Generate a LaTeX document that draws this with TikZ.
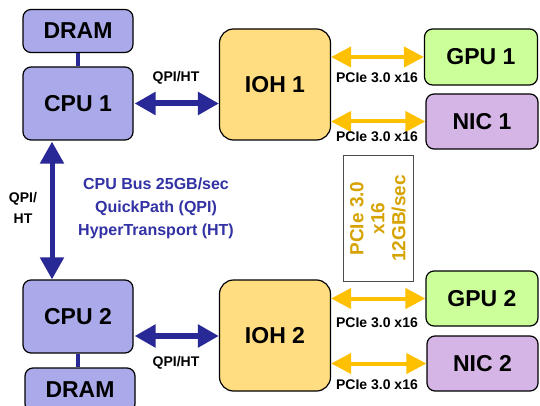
\documentclass[tikz,border=0pt]{standalone}
\usepackage{fontspec}
\setmainfont{Liberation Sans}
\usetikzlibrary{arrows.meta}
\definecolor{cpufill}{RGB}{170,170,235}
\definecolor{iohfill}{RGB}{255,221,128}
\definecolor{gpufill}{RGB}{204,255,153}
\definecolor{nicfill}{RGB}{213,180,230}
\definecolor{busblue}{RGB}{40,40,150}
\definecolor{txtblue}{RGB}{50,50,165}
\definecolor{pcieorange}{RGB}{255,192,0}
\definecolor{pcietext}{RGB}{214,163,0}
\tikzset{
  box/.style={draw=black, line width=1.2pt, rounded corners=8pt, align=center,
    font=\bfseries\fontsize{23}{27}\selectfont, inner sep=0pt},
  cpubox/.style={box, fill=cpufill, minimum width=110pt, minimum height=73pt},
  drambox/.style={box, fill=cpufill, minimum width=110pt, minimum height=43pt},
  iohbox/.style={box, fill=iohfill, rounded corners=14pt, minimum width=111pt, minimum height=111pt},
  gpubox/.style={box, fill=gpufill, minimum width=113pt, minimum height=56pt},
  nicbox/.style={box, fill=nicfill, minimum width=112pt, minimum height=55pt},
  qpiarrow/.style={draw=busblue, line width=6pt, {Triangle[width=22pt,length=21pt]}-{Triangle[width=22pt,length=21pt]}},
  cpuarrow/.style={draw=busblue, line width=5pt, {Triangle[width=23pt,length=22pt]}-{Triangle[width=23pt,length=22pt]}},
  pciearrow/.style={draw=pcieorange, line width=4pt, {Triangle[width=20pt,length=20pt]}-{Triangle[width=20pt,length=20pt]}},
  dramlink/.style={draw=busblue, line width=4.5pt},
  smalllabel/.style={font=\bfseries\fontsize{14}{21}\selectfont, align=center, inner sep=0pt},
}
\begin{document}
\begin{tikzpicture}[x=1pt,y=-1pt]
\useasboundingbox (0,0) rectangle (540,406);
\fill[white] (0,0) rectangle (540,406);

% nodes
\node[drambox] (dram1) at (78,31) {DRAM};
\node[cpubox] (cpu1) at (78,103.5) {CPU 1};
\node[iohbox] (ioh1) at (275,84.5) {IOH 1};
\node[gpubox] (gpu1) at (481,57) {GPU 1};
\node[nicbox] (nic1) at (482,121.5) {NIC 1};

\node[cpubox] (cpu2) at (78,316.5) {CPU 2};
\node[drambox, minimum height=44pt] (dram2) at (80,390) {DRAM};
\node[iohbox] (ioh2) at (275,335.5) {IOH 2};
\node[gpubox, minimum width=112pt, minimum height=55pt] (gpu2) at (482,298.5) {GPU 2};
\node[nicbox, minimum width=111pt] (nic2) at (482.5,363.5) {NIC 2};

% DRAM links
\draw[dramlink] (dram1.south) -- (cpu1.north);
\draw[dramlink] (cpu2.south) -- (cpu2.south |- dram2.north);

% QPI arrows
\coordinate (c1e) at ([xshift=1pt]cpu1.east);
\coordinate (c2e) at ([xshift=1pt,yshift=-19.5pt]cpu2.east);
\draw[qpiarrow] (c1e) -- (c1e -| ioh1.west);
\draw[qpiarrow] (c2e) -- (c2e -| ioh2.west);
\node[smalllabel] (qpi1) at (176,78) {QPI/HT};
\node[smalllabel] (qpi2) at (176,363) {QPI/HT};

% CPU-CPU arrow
\coordinate (c1s) at ([xshift=-26pt,yshift=-1pt]cpu1.south);
\draw[cpuarrow] (c1s) -- (c1s |- cpu2.north);
\node[smalllabel] (qpi3) at (23,208) {QPI/\\HT};

% Bus text
\node[font=\bfseries\fontsize{16}{23}\selectfont, text=txtblue, align=center, inner sep=0pt] (bus) at (156,208) {CPU Bus 25GB/sec\\QuickPath (QPI)\\HyperTransport (HT)};

% PCIe arrows
\coordinate (p1) at (ioh1.east |- gpu1.west);
\coordinate (p2) at (ioh1.east |- nic1.west);
\coordinate (p3) at (ioh2.east |- gpu2.west);
\coordinate (p4) at (ioh2.east |- nic2.west);
\draw[pciearrow] (p1) -- (gpu1.west);
\draw[pciearrow] (p2) -- (nic1.west);
\draw[pciearrow] (p3) -- (gpu2.west);
\draw[pciearrow] (p4) -- (nic2.west);
\node[smalllabel] (l1) at (377,78) {PCIe 3.0 x16};
\node[smalllabel] (l2) at (377,137) {PCIe 3.0 x16};
\node[smalllabel] (l3) at (377,323) {PCIe 3.0 x16};
\node[smalllabel] (l4) at (377,385) {PCIe 3.0 x16};

% PCIe box
\node[draw=black!70, line width=1pt, fill=white, rotate=90, minimum width=125pt, minimum height=70pt,
  inner sep=0pt, align=center, text=pcietext, font=\bfseries\fontsize{19}{21}\selectfont] (pbox) at (378,218.5) {PCIe 3.0\\x16\\12GB/sec};
\end{tikzpicture}
\end{document}
